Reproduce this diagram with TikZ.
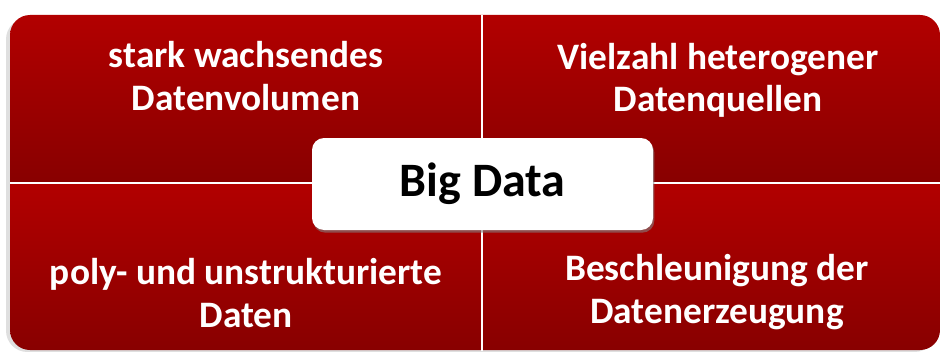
\documentclass[tikz,border=0pt]{standalone}
\usepackage{fontspec}
\setmainfont{Carlito}
\usetikzlibrary{shadows}

\definecolor{redtop}{RGB}{178,0,0}
\definecolor{redbot}{RGB}{136,0,0}

\tikzset{
	quadtext/.style={text=white, align=center, anchor=base,
		font=\fontsize{28}{32}\selectfont\bfseries},
	quad/.style={top color=redtop, bottom color=redbot}
}

\begin{document}
\begin{tikzpicture}[x=0.75pt,y=0.75pt]
			\useasboundingbox (0,0) rectangle (942,351);
			% faint shadow round the block
			\fill [gray, opacity=0.25, rounded corners=16pt] (6,-1) rectangle (936,333);
			\begin{scope}
				\clip [rounded corners=15pt] (10,1) rectangle (940,336);
				\shade [quad] (10,168) rectangle (482,336);
				\shade [quad] (482,168) rectangle (940,336);
				\shade [quad] (10,1) rectangle (482,168);
				\shade [quad] (482,1) rectangle (940,168);
			\end{scope}
			\draw [white, line width=1.5pt] (482,0) -- (482,336);
			\draw [white, line width=1.5pt] (10,168) -- (940,168);
			\node [quadtext] (volumen) at (246,241) {stark wachsendes\\Datenvolumen};
			\node [quadtext] (quellen) at (718,239) {Vielzahl heterogener\\Datenquellen};
			\node [quadtext] (struktur) at (246,24) {poly- und unstrukturierte\\Daten};
			\node [quadtext] (erzeugung) at (717,28) {Beschleunigung der\\Datenerzeugung};
			\node [fill=white, rounded corners=9pt, minimum width=255.75pt, minimum height=69pt,
				drop shadow={shadow xshift=1pt, shadow yshift=-2pt, opacity=0.6},
				font=\fontsize{36}{40}\selectfont\bfseries] (bigdata) at (482.5,167) {Big Data};
		\end{tikzpicture}
\end{document}
